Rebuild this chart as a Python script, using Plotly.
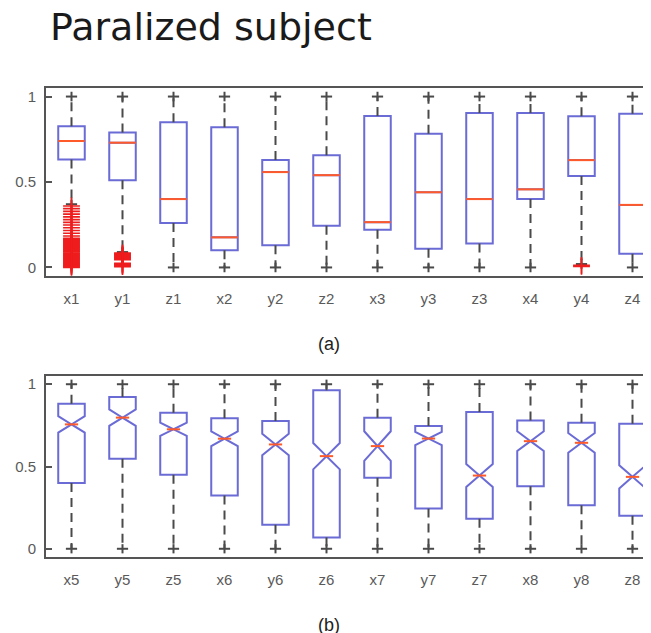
import plotly.graph_objects as go

W, H = 651, 633
OFF = 8  # default page margin of the html body

# ---------------- data (a) ----------------
labels_a = ["x1", "y1", "z1", "x2", "y2", "z2", "x3", "y3", "z3", "x4", "y4", "z4"]
q1_a  = [0.632, 0.51, 0.26, 0.10, 0.13, 0.244, 0.22, 0.11, 0.14, 0.40, 0.535, 0.08]
med_a = [0.74, 0.73, 0.40, 0.176, 0.558, 0.54, 0.265, 0.44, 0.40, 0.457, 0.628, 0.366]
q3_a  = [0.826, 0.79, 0.85, 0.82, 0.628, 0.657, 0.886, 0.783, 0.903, 0.903, 0.884, 0.90]
lo_a  = [0.37, 0.09, 0.0, 0.0, 0.0, 0.0, 0.0, 0.0, 0.0, 0.0, 0.02, 0.0]
hi_a  = [1.0] * 12
out_x1 = [0.36, 0.344, 0.328, 0.312, 0.296, 0.28, 0.264, 0.248, 0.232, 0.216, 0.2, 0.184,
          0.17, 0.165, 0.16, 0.155, 0.15, 0.145, 0.14, 0.135, 0.13, 0.125, 0.12, 0.115,
          0.11, 0.105, 0.10, 0.095, 0.09, 0.085, 0.08, 0.075, 0.07, 0.065, 0.06, 0.055,
          0.05, 0.045, 0.04, 0.035, 0.03, 0.025, 0.02, 0.015, 0.01, 0.005, 0.0]
out_y1 = [0.085, 0.08, 0.075, 0.07, 0.065, 0.06, 0.055, 0.05, 0.045, 0.025, 0.02, 0.015,
          0.01, 0.005]
out_y4 = [0.012, 0.006]
outliers_a = {"x1": out_x1, "y1": out_y1, "y4": out_y4}

# ---------------- data (b) ----------------
labels_b = ["x5", "y5", "z5", "x6", "y6", "z6", "x7", "y7", "z7", "x8", "y8", "z8"]
q1_b  = [0.40, 0.547, 0.45, 0.323, 0.146, 0.069, 0.431, 0.244, 0.183, 0.38, 0.264, 0.20]
med_b = [0.756, 0.797, 0.726, 0.669, 0.634, 0.563, 0.624, 0.67, 0.445, 0.654, 0.644, 0.437]
q3_b  = [0.882, 0.923, 0.827, 0.793, 0.776, 0.963, 0.797, 0.746, 0.831, 0.78, 0.766, 0.76]
notch_b = [0.05, 0.05, 0.04, 0.045, 0.065, 0.08, 0.09, 0.04, 0.07, 0.06, 0.06, 0.07]
lo_b  = [0.0] * 12
hi_b  = [1.0] * 12

# ---------------- style ----------------
BOX_C = "#6b6bd6"
MED_C = "#ff5a2a"
WHI_C = "#4a4a4a"
OUT_C = "#ee1c1c"
AX_C = "#555555"
TICK_FONT = dict(family="Liberation Sans, Arial", size=15, color="#5a5a5a")
BOXW = 0.52
NOTCHW = 0.5
CAPW = 0.11
EXT = 0.028

fig = go.Figure()


def add_panel(labels, q1, med, q3, lo, hi, xa, ya, notches=None, outliers=None):
    pos = list(range(1, len(labels) + 1))
    for i, p in enumerate(pos):
        kw = dict(notched=True, notchspan=[notches[i]], notchwidth=NOTCHW) if notches else {}
        fig.add_trace(go.Box(
            x=[p], q1=[q1[i]], median=[med[i]], q3=[q3[i]],
            lowerfence=[q1[i]], upperfence=[q3[i]],
            width=BOXW, whiskerwidth=0,
            line=dict(color=BOX_C, width=2), fillcolor="rgba(255,255,255,0)",
            boxpoints=False, showlegend=False, hoverinfo="skip",
            xaxis=xa, yaxis=ya, **kw))
    # dashed whiskers
    wx, wy = [], []
    for i, p in enumerate(pos):
        wx += [p, p, None, p, p, None]
        wy += [q3[i], hi[i], None, q1[i], lo[i], None]
    fig.add_trace(go.Scatter(x=wx, y=wy, mode="lines",
                             line=dict(color=WHI_C, width=2, dash="9px,6px"),
                             showlegend=False, hoverinfo="skip", xaxis=xa, yaxis=ya))
    # caps (with short crossing stub)
    cx, cy = [], []
    for i, p in enumerate(pos):
        for v, s in ((hi[i], 1), (lo[i], -1)):
            cx += [p - CAPW, p + CAPW, None, p, p, None]
            cy += [v, v, None, v - s * EXT, v + s * EXT, None]
    fig.add_trace(go.Scatter(x=cx, y=cy, mode="lines",
                             line=dict(color=WHI_C, width=2),
                             showlegend=False, hoverinfo="skip", xaxis=xa, yaxis=ya))
    # medians in red
    mx, my = [], []
    half = BOXW / 2 * ((1 - NOTCHW) if notches else 1)
    for i, p in enumerate(pos):
        mx += [p - half, p + half, None]
        my += [med[i], med[i], None]
    fig.add_trace(go.Scatter(x=mx, y=my, mode="lines",
                             line=dict(color=MED_C, width=2),
                             showlegend=False, hoverinfo="skip", xaxis=xa, yaxis=ya))
    # outliers
    if outliers:
        ox, oy = [], []
        for lab, vals in outliers.items():
            p = pos[labels.index(lab)]
            ox += [p] * len(vals)
            oy += vals
        fig.add_trace(go.Scatter(x=ox, y=oy, mode="markers",
                                 marker=dict(symbol="cross-thin", size=12,
                                             line=dict(color=OUT_C, width=1.6)),
                                 showlegend=False, hoverinfo="skip", xaxis=xa, yaxis=ya))


add_panel(labels_a, q1_a, med_a, q3_a, lo_a, hi_a, "x", "y", outliers=outliers_a)
add_panel(labels_b, q1_b, med_b, q3_b, lo_b, hi_b, "x2", "y2", notches=notch_b)

L, R = 46 - OFF, 0
xr = [0.5, 0.5 + (W - L - R) / 51.0]


def xaxis(labels, anchor):
    return dict(range=xr, tickvals=list(range(1, len(labels) + 1)), ticktext=labels,
                showline=True, mirror=True, linecolor=AX_C, linewidth=2,
                ticks="", showgrid=False, zeroline=False, tickfont=TICK_FONT,
                ticklabelstandoff=8, anchor=anchor, domain=[0, 1])


def yaxis(dom, anchor):
    return dict(range=[-0.05, 1.05], tickvals=[0, 0.5, 1], ticktext=["0", "0.5", "1"],
                showline=True, mirror=False, linecolor=AX_C, linewidth=2,
                ticks="inside", ticklen=6, tickwidth=2, tickcolor=AX_C,
                showgrid=False, zeroline=False, tickfont=TICK_FONT,
                ticklabelstandoff=5, anchor=anchor, domain=dom)


def py(pix):
    return 1 - (pix - OFF) / H


def px(pix):
    return (pix - OFF - L) / (W - L - R)


fig.update_layout(
    width=W, height=H,
    margin=dict(l=L, r=R, t=0, b=0, pad=0),
    paper_bgcolor="white", plot_bgcolor="white",
    xaxis=xaxis(labels_a, "y"),
    yaxis=yaxis([py(276), py(88)], "x"),
    xaxis2=xaxis(labels_b, "y2"),
    yaxis2=yaxis([py(557), py(376)], "x2"),
    annotations=[
        dict(text="Paralized subject", xref="paper", yref="paper",
             x=px(48), y=py(27), xanchor="left", yanchor="middle",
             showarrow=False, font=dict(family="DejaVu Sans", size=38, color="#1a1a1a")),
        dict(text="(a)", xref="paper", yref="paper", x=px(329), y=py(344),
             xanchor="center", yanchor="middle", showarrow=False,
             font=dict(family="Liberation Sans, Arial", size=18, color="#222222")),
        dict(text="(b)", xref="paper", yref="paper", x=px(329), y=py(625),
             xanchor="center", yanchor="middle", showarrow=False,
             font=dict(family="Liberation Sans, Arial", size=18, color="#222222")),
    ],
)

fig.write_html("out.html")
